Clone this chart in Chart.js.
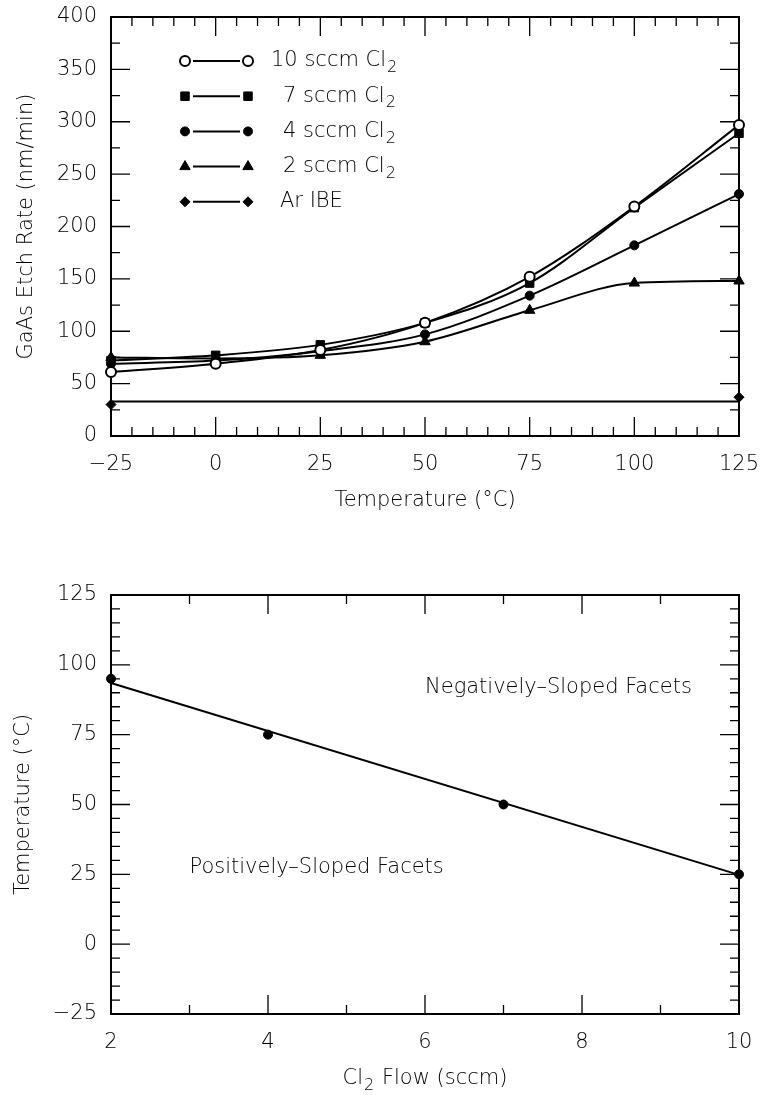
<!DOCTYPE html>
<html>
<head>
<meta charset="utf-8">
<title>GaAs Etch Rate</title>
<script src="https://cdn.jsdelivr.net/npm/chart.js@4.4.1/dist/chart.umd.min.js"></script>
<style>
    body { margin: 0; background: #fff; }
    canvas { display: block; }
</style>
</head>
<body>
<canvas id="graficoVelocidad" width="761" height="545"></canvas>
<canvas id="graficoFacetas" width="761" height="550"></canvas>
<script>
// Datos
const temperaturas = [-25, 0, 25, 50, 75, 100, 125];
const cl2_10 = [61, 69, 82, 108, 152, 219, 297];
const cl2_7 = [72, 77, 87, 108, 146, 218, 289];
const cl2_4 = [69, 72, 81, 97, 134, 182, 231];
const cl2_2 = [75, 74, 77, 90, 120, 146, 148];
const arTemperaturas = [-25, 125];
const arIbe = [30, 37];
const arIbeAjuste = [33, 33];
const etiquetas = ["10 sccm Cl₂", "7 sccm Cl₂", "4 sccm Cl₂", "2 sccm Cl₂", "Ar IBE"];

const flujos = [2, 4, 7, 10];
const temperaturasFaceta = [95, 75, 50, 25];
const flujosAjuste = [2, 10];
const temperaturasAjuste = [93.5, 24.8];

const FUENTE = '"DejaVu Sans", "Liberation Sans", sans-serif';
const TAM_TEXTO = 21;
Chart.defaults.font = { family: FUENTE, size: TAM_TEXTO, weight: 200, lineHeight: 1.2 };
Chart.defaults.color = "#000";

function puntos(xs, ys) {
    return xs.map((x, i) => ({ x: x, y: ys[i] }));
}

function menos(valor) {
    return String(valor).replace("-", "\u2212");
}

// marcas hacia dentro en los cuatro lados
function marcas(ctx, escala, menor, mayor, area, horizontal) {
    const n = Math.round((escala.max - escala.min) / menor);
    for (let i = 0; i <= n; i++) {
        const v = escala.min + i * menor;
        const largo = Math.abs(v / mayor - Math.round(v / mayor)) < 1e-6 ? 19 : 9;
        const p = escala.getPixelForValue(v);
        ctx.beginPath();
        if (horizontal) {
            ctx.moveTo(p, area.bottom);
            ctx.lineTo(p, area.bottom - largo);
            ctx.moveTo(p, area.top);
            ctx.lineTo(p, area.top + largo);
        } else {
            ctx.moveTo(area.left, p);
            ctx.lineTo(area.left + largo, p);
            ctx.moveTo(area.right, p);
            ctx.lineTo(area.right - largo, p);
        }
        ctx.stroke();
    }
}

const marco = {
    id: "marco",
    beforeDatasetsDraw(chart, args, opts) {
        const ctx = chart.ctx;
        const a = chart.chartArea;
        ctx.save();
        ctx.strokeStyle = "#000";
        ctx.lineWidth = 1.3;
        marcas(ctx, chart.scales.x, opts.xMenor, opts.xMayor, a, true);
        marcas(ctx, chart.scales.y, opts.yMenor, opts.yMayor, a, false);
        ctx.lineWidth = 2;
        ctx.strokeRect(a.left, a.top, a.right - a.left, a.bottom - a.top);
        ctx.restore();
    }
};

// separa "Cl₂" para dibujar el 2 como subindice
function partes(texto) {
    const i = texto.indexOf("₂");
    if (i < 0) {
        return [texto, "", ""];
    }
    return [texto.slice(0, i), "2", texto.slice(i + 1)];
}

function textoConSubindice(ctx, texto, x, y, centrado) {
    const [antes, sub, despues] = partes(texto);
    const fuente = "200 " + TAM_TEXTO + "px " + FUENTE;
    const fuenteSub = "200 16px " + FUENTE;
    ctx.font = fuente;
    const a1 = ctx.measureText(antes).width;
    const a3 = ctx.measureText(despues).width;
    ctx.font = fuenteSub;
    const a2 = sub ? ctx.measureText(sub).width + 2 : 0;
    let xi = centrado ? x - (a1 + a2 + a3) / 2 : x;
    ctx.textAlign = "left";
    ctx.font = fuente;
    ctx.fillText(antes, xi, y);
    if (sub) {
        ctx.font = fuenteSub;
        ctx.fillText(sub, xi + a1 + 1, y + 7);
    }
    ctx.font = fuente;
    ctx.fillText(despues, xi + a1 + a2, y);
}

const leyenda = {
    id: "leyenda",
    afterDraw(chart, args, opts) {
        const ctx = chart.ctx;
        ctx.save();
        ctx.textBaseline = "middle";
        opts.filas.forEach((fila, i) => {
            const ds = chart.data.datasets[fila];
            const y = opts.y0 + i * opts.paso;
            ctx.strokeStyle = "#000";
            ctx.lineWidth = 2;
            ctx.beginPath();
            ctx.moveTo(opts.x0 + 8, y);
            ctx.lineTo(opts.x1 - 8, y);
            ctx.stroke();
            const estilo = {
                pointStyle: ds.pointStyle,
                radius: ds.pointRadius,
                rotation: 0,
                borderWidth: ds.pointBorderWidth
            };
            ctx.fillStyle = ds.pointBackgroundColor;
            ctx.strokeStyle = "#000";
            ctx.lineWidth = ds.pointBorderWidth;
            Chart.helpers.drawPoint(ctx, estilo, opts.x0, y);
            ctx.fillStyle = ds.pointBackgroundColor;
            ctx.strokeStyle = "#000";
            Chart.helpers.drawPoint(ctx, estilo, opts.x1, y);
            ctx.fillStyle = "#000";
            textoConSubindice(ctx, ds.label, opts.xTexto + opts.sangria[i], y, false);
        });
        ctx.restore();
    }
};

const notas = {
    id: "notas",
    afterDraw(chart, args, opts) {
        const ctx = chart.ctx;
        const a = chart.chartArea;
        ctx.save();
        ctx.fillStyle = "#000";
        ctx.textBaseline = "middle";
        opts.textos.forEach(t => {
            textoConSubindice(ctx, t.texto, chart.scales.x.getPixelForValue(t.x), chart.scales.y.getPixelForValue(t.y), false);
        });
        // titulo del eje x con subindice
        textoConSubindice(ctx, opts.tituloX, (a.left + a.right) / 2, chart.height - opts.bajoTitulo, true);
        ctx.restore();
    }
};

function serie(etiqueta, datos, estilo, relleno, radio, bordePunto) {
    return {
        label: etiqueta,
        data: puntos(temperaturas, datos),
        borderColor: "#000",
        borderWidth: 2,
        cubicInterpolationMode: "monotone",
        pointStyle: estilo,
        pointRadius: radio,
        pointBackgroundColor: relleno,
        pointBorderColor: "#000",
        pointBorderWidth: bordePunto,
        clip: false
    };
}

const ejeComun = {
    type: "linear",
    grid: { display: false, drawTicks: false },
    border: { display: false }
};

function fijarX(alto) {
    return s => {
        s.height = alto;
        s.paddingLeft = 0;
        s.paddingRight = 0;
    };
}

function fijarY(ancho) {
    return s => {
        s.width = ancho;
        s.paddingTop = 0;
        s.paddingBottom = 0;
    };
}

new Chart(document.getElementById("graficoVelocidad"), {
    type: "line",
    data: {
        datasets: [
            serie(etiquetas[0], cl2_10, "circle", "#fff", 5, 2),
            serie(etiquetas[1], cl2_7, "rect", "#000", 6, 1),
            serie(etiquetas[2], cl2_4, "circle", "#000", 4.5, 1),
            serie(etiquetas[3], cl2_2, "triangle", "#000", 6, 1),
            {
                label: etiquetas[4],
                data: puntos(arTemperaturas, arIbe),
                showLine: false,
                pointStyle: "rectRot",
                pointRadius: 5,
                pointBackgroundColor: "#000",
                pointBorderColor: "#000",
                pointBorderWidth: 1,
                clip: false
            },
            {
                label: "Ar IBE ajuste",
                data: puntos(arTemperaturas, arIbeAjuste),
                borderColor: "#000",
                borderWidth: 2,
                pointRadius: 0,
                clip: false
            }
        ]
    },
    options: {
        responsive: false,
        animation: false,
        layout: { padding: { top: 17, right: 22, left: 0, bottom: 0 } },
        plugins: {
            legend: { display: false },
            tooltip: { enabled: false },
            marco: { xMenor: 5, xMayor: 25, yMenor: 25, yMayor: 50 },
            leyenda: { filas: [0, 1, 2, 3, 4], x0: 185, x1: 248, xTexto: 271, y0: 61, paso: 35.2, sangria: [0, 12, 12, 12, 9] }
        },
        scales: {
            x: {
                ...ejeComun,
                min: -25,
                max: 125,
                ticks: { stepSize: 25, padding: 16, maxRotation: 0, callback: v => menos(v) },
                title: { display: true, text: "Temperature (°C)", padding: { top: 0, bottom: 32 } },
                afterFit: fijarX(109)
            },
            y: {
                ...ejeComun,
                min: 0,
                max: 400,
                ticks: { stepSize: 50, padding: 14 },
                title: { display: true, text: "GaAs Etch Rate (nm/min)", padding: { top: 14, bottom: 0 } },
                afterFit: fijarY(111)
            }
        }
    },
    plugins: [marco, leyenda]
});

new Chart(document.getElementById("graficoFacetas"), {
    type: "line",
    data: {
        datasets: [
            {
                label: "Transicion",
                data: puntos(flujos, temperaturasFaceta),
                showLine: false,
                pointStyle: "circle",
                pointRadius: 4.5,
                pointBackgroundColor: "#000",
                pointBorderColor: "#000",
                pointBorderWidth: 1,
                clip: false
            },
            {
                label: "Ajuste",
                data: puntos(flujosAjuste, temperaturasAjuste),
                borderColor: "#000",
                borderWidth: 2,
                pointRadius: 0,
                clip: false
            }
        ]
    },
    options: {
        responsive: false,
        animation: false,
        layout: { padding: { top: 50, right: 22, left: 0, bottom: 0 } },
        plugins: {
            legend: { display: false },
            tooltip: { enabled: false },
            marco: { xMenor: 1, xMayor: 2, yMenor: 5, yMayor: 25 },
            notas: {
                textos: [
                    { texto: "Negatively–Sloped Facets", x: 6, y: 92 },
                    { texto: "Positively–Sloped Facets", x: 3, y: 27.5 }
                ],
                tituloX: "Cl₂ Flow (sccm)",
                bajoTitulo: 16
            }
        },
        scales: {
            x: {
                ...ejeComun,
                min: 2,
                max: 10,
                ticks: { stepSize: 2, padding: 16, maxRotation: 0 },
                title: { display: false },
                afterFit: fijarX(81)
            },
            y: {
                ...ejeComun,
                min: -25,
                max: 125,
                ticks: { stepSize: 25, padding: 14, callback: v => menos(v) },
                title: { display: true, text: "Temperature (°C)", padding: { top: 11, bottom: 0 } },
                afterFit: fijarY(111)
            }
        }
    },
    plugins: [marco, notas]
});
</script>
</body>
</html>
